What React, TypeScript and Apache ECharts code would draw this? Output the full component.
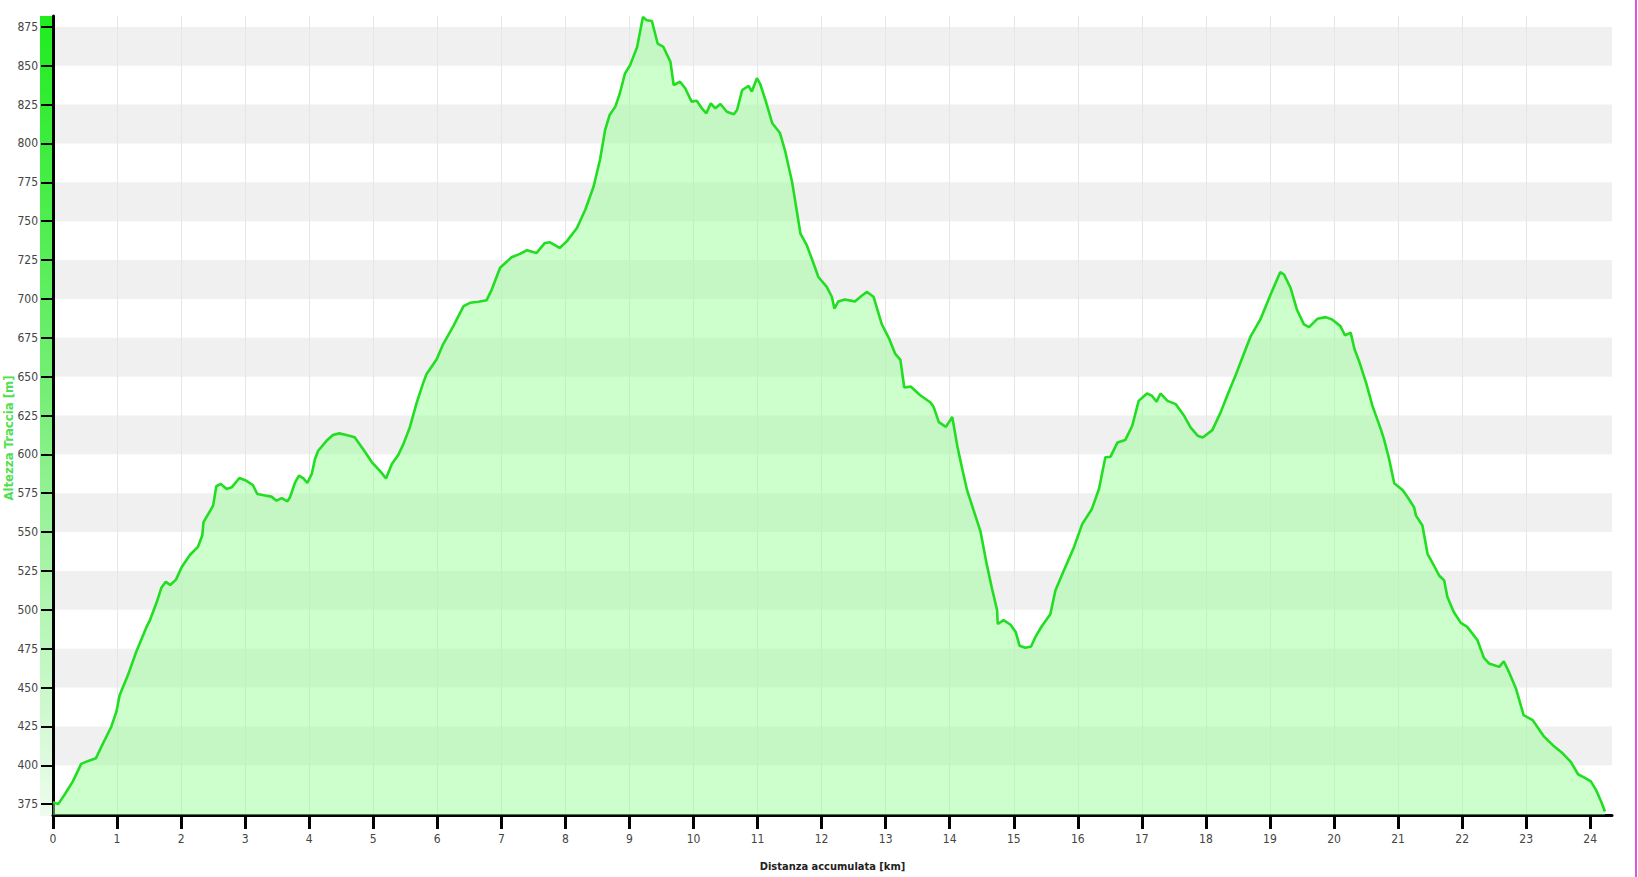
import React, { useEffect, useRef } from "react";
import * as echarts from "echarts";

const distanceKm = [
  0.0, 0.08, 0.18, 0.31, 0.44, 0.55, 0.67, 0.78, 0.91, 0.99, 1.04, 1.17, 1.3, 1.46, 1.51, 1.62, 1.69, 1.76, 1.83, 1.92,
  2.01, 2.14, 2.26, 2.33, 2.35, 2.5, 2.55, 2.62, 2.71, 2.79, 2.91, 3.02, 3.12, 3.19, 3.31, 3.41, 3.49, 3.57, 3.66, 3.7,
  3.78, 3.84, 3.91, 3.97, 4.04, 4.09, 4.14, 4.27, 4.37, 4.47, 4.58, 4.71, 4.84, 4.98, 5.1, 5.2, 5.29, 5.39, 5.47, 5.57,
  5.68, 5.78, 5.83, 5.99, 6.09, 6.25, 6.41, 6.51, 6.64, 6.77, 6.85, 6.98, 7.16, 7.29, 7.4, 7.55, 7.68, 7.76, 7.91, 8.02,
  8.18, 8.31, 8.44, 8.54, 8.62, 8.69, 8.78, 8.85, 8.93, 9.01, 9.12, 9.21, 9.27, 9.35, 9.44, 9.53, 9.64, 9.69, 9.79, 9.87,
  9.97, 10.05, 10.13, 10.2, 10.27, 10.34, 10.42, 10.52, 10.63, 10.68, 10.76, 10.86, 10.91, 10.99, 11.04, 11.12, 11.23,
  11.35, 11.43, 11.54, 11.61, 11.67, 11.77, 11.85, 11.95, 12.08, 12.16, 12.2, 12.26, 12.36, 12.52, 12.63, 12.71, 12.81,
  12.94, 13.05, 13.15, 13.23, 13.29, 13.39, 13.54, 13.7, 13.75, 13.83, 13.94, 14.04, 14.12, 14.2, 14.27, 14.37, 14.48,
  14.58, 14.66, 14.74, 14.75, 14.84, 14.95, 15.03, 15.09, 15.18, 15.27, 15.34, 15.44, 15.57, 15.65, 15.78, 15.94, 16.07,
  16.22, 16.33, 16.43, 16.51, 16.62, 16.74, 16.85, 16.95, 17.08, 17.16, 17.23, 17.29, 17.4, 17.53, 17.66, 17.76, 17.87,
  17.95, 18.1, 18.23, 18.33, 18.46, 18.57, 18.7, 18.85, 19.01, 19.16, 19.22, 19.32, 19.42, 19.53, 19.61, 19.74, 19.87,
  19.97, 20.1, 20.17, 20.26, 20.32, 20.39, 20.5, 20.6, 20.73, 20.78, 20.86, 20.94, 21.07, 21.15, 21.25, 21.28, 21.38,
  21.46, 21.56, 21.64, 21.72, 21.77, 21.87, 21.98, 22.08, 22.24, 22.34, 22.42, 22.58, 22.65, 22.73, 22.84, 22.96, 23.1,
  23.28, 23.44, 23.57, 23.7, 23.81, 23.91, 24.01, 24.09, 24.17, 24.23,
];

const elevationM = [
  376.3, 375.0, 381.0, 389.6, 400.9, 402.8, 404.5, 414.0, 424.8, 434.5, 445.0, 458.0, 473.0, 489.0, 493.0, 505.0, 514.0,
  518.0, 516.0, 519.4, 527.5, 535.4, 540.3, 547.8, 556.4, 567.0, 579.5, 581.0, 577.7, 578.8, 584.8, 583.0, 580.3, 574.5,
  573.5, 572.8, 570.2, 571.8, 569.8, 572.4, 582.0, 586.3, 584.6, 581.6, 587.4, 597.0, 602.3, 608.7, 612.4, 613.5, 612.4,
  611.0, 603.4, 594.9, 589.5, 584.6, 593.8, 599.6, 606.6, 617.3, 633.4, 646.0, 651.5, 661.2, 670.8, 682.5, 695.4, 697.5,
  698.2, 699.2, 706.0, 720.0, 726.8, 729.0, 731.3, 729.6, 736.0, 736.4, 732.8, 737.0, 745.6, 757.4, 772.3, 789.5, 808.7,
  818.3, 823.7, 832.3, 845.0, 850.4, 862.1, 881.4, 879.3, 878.8, 864.3, 862.1, 852.5, 837.6, 839.7, 835.5, 826.9, 827.5,
  822.6, 819.4, 825.8, 822.6, 825.4, 820.4, 818.8, 821.5, 834.4, 837.0, 833.4, 842.0, 838.4, 828.3, 813.0, 806.7, 795.3,
  775.0, 757.2, 742.0, 734.4, 725.5, 714.1, 707.7, 701.4, 693.8, 698.4, 699.6, 698.4, 702.2, 704.5, 701.4, 683.7, 674.8,
  664.6, 660.8, 643.0, 643.6, 638.0, 633.4, 630.4, 620.7, 617.7, 624.0, 605.0, 589.8, 577.1, 564.4, 550.5, 528.9, 513.7,
  499.7, 490.9, 493.4, 490.4, 485.8, 476.9, 475.6, 476.4, 482.7, 489.6, 497.2, 512.4, 525.1, 540.3, 555.3, 564.9, 577.7,
  598.1, 598.5, 607.7, 609.2, 618.4, 634.4, 639.2, 637.6, 633.8, 639.2, 634.4, 632.3, 624.8, 617.3, 612.0, 610.9, 615.6,
  627.0, 637.6, 650.5, 662.3, 676.1, 686.8, 702.9, 717.2, 715.7, 707.2, 693.2, 683.6, 681.9, 687.2, 688.3, 686.8, 682.5,
  676.6, 678.3, 667.6, 660.1, 646.2, 631.2, 616.2, 609.8, 597.0, 581.4, 577.1, 572.4, 566.0, 560.6, 554.2, 536.0, 528.5,
  522.1, 518.9, 508.3, 498.6, 491.6, 489.0, 480.4, 469.1, 465.5, 463.3, 466.9, 460.1, 449.4, 432.3, 429.1, 418.4, 412.0,
  407.7, 402.0, 394.2, 392.1, 389.6, 384.2, 376.7, 370.3,
];

const yTickValues = [375, 400, 425, 450, 475, 500, 525, 550, 575, 600, 625, 650, 675, 700, 725, 750, 775, 800, 825, 850, 875];
const xTickValues = [0, 1, 2, 3, 4, 5, 6, 7, 8, 9, 10, 11, 12, 13, 14, 15, 16, 17, 18, 19, 20, 21, 22, 23, 24];
const yMin = 368;
const yMax = 882;
const xMax = 24.34;
const yAxisTitle = "Altezza Traccia [m]";
const xAxisTitle = "Distanza accumulata [km]";

const FONT = "'DejaVu Sans Condensed', 'DejaVu Sans', sans-serif";

export default function App() {
  const ref = useRef<HTMLDivElement>(null);

  useEffect(() => {
    const chart = echarts.init(ref.current as HTMLDivElement, null, { renderer: "svg" });
    const data = distanceKm.map((d, i) => [d, elevationM[i]]);
    chart.setOption({
      animation: false,
      backgroundColor: "#ffffff",
      grid: { left: 53, right: 26, top: 16, bottom: 61, containLabel: false },
      graphic: [
        {
          type: "rect",
          z: -10,
          shape: { x: 40, y: 16, width: 12, height: 800 },
          style: {
            fill: new echarts.graphic.LinearGradient(0, 0, 0, 1, [
              { offset: 0, color: "#1fec1f" },
              { offset: 0.5, color: "#7cef7c" },
              { offset: 1, color: "#eefcee" },
            ]),
          },
        },
        {
          type: "rect",
          shape: { x: 1635, y: 0, width: 2, height: 877 },
          style: { fill: "#dd55dd" },
        },
        {
          type: "text",
          x: 8,
          y: 438,
          rotation: Math.PI / 2,
          style: {
            text: yAxisTitle,
            fill: "#4ee04e",
            font: `bold 13px ${FONT}`,
            align: "center",
            verticalAlign: "middle",
          },
        },
      ],
      xAxis: {
        type: "value",
        min: 0,
        max: xMax,
        interval: 1,
        name: xAxisTitle,
        nameLocation: "middle",
        nameGap: 46,
        nameTextStyle: { fontFamily: FONT, fontWeight: "bold", fontSize: 11, color: "#222" },
        axisLine: { show: true, onZero: false, lineStyle: { color: "#000", width: 3 } },
        axisTick: { show: true, length: 14, customValues: xTickValues, lineStyle: { color: "#000", width: 3 } },
        axisLabel: {
          customValues: xTickValues,
          margin: 18,
          fontFamily: FONT,
          fontSize: 12,
          color: "#444",
        },
        splitLine: { show: true, showMaxLine: false, lineStyle: { color: "#e6e6e6", width: 1 } },
      },
      yAxis: {
        type: "value",
        min: yMin,
        max: yMax,
        minInterval: 25,
        maxInterval: 25,
        axisLine: { show: true, lineStyle: { color: "#000", width: 3 } },
        axisTick: { show: true, length: 12, customValues: yTickValues, lineStyle: { color: "#000", width: 2 } },
        axisLabel: {
          customValues: yTickValues,
          margin: 15,
          fontFamily: FONT,
          fontSize: 12,
          color: "#444",
        },
        splitLine: { show: false },
        splitArea: { show: true, areaStyle: { color: ["rgba(255,255,255,0)", "#f0f0f0"] } },
      },
      series: [
        {
          type: "line",
          data,
          showSymbol: false,
          symbol: "none",
          lineStyle: { color: "#22dd22", width: 2.6 },
          areaStyle: { color: "rgba(146,255,146,0.47)", opacity: 1 },
          z: 3,
        },
      ],
    });
    return () => chart.dispose();
  }, []);

  return (
    <div
      ref={ref}
      style={{ position: "absolute", left: 0, top: 0, width: 1638, height: 877, background: "#ffffff" }}
    />
  );
}
